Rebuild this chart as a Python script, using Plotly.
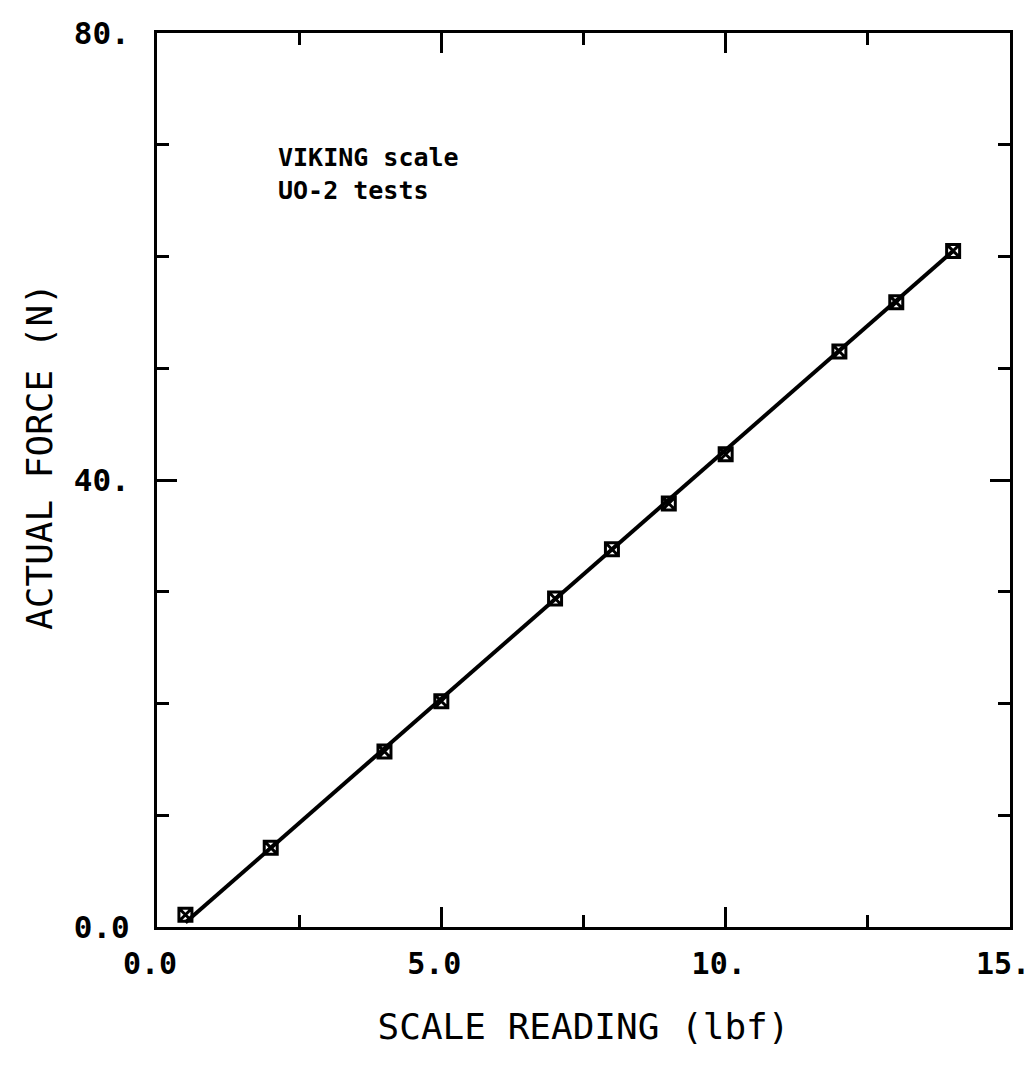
import plotly.graph_objects as go

# Data
scale_reading = [0.5, 2.0, 4.0, 5.0, 7.0, 8.0, 9.0, 10.0, 12.0, 13.0, 14.0]
actual_force = [1.1, 7.1, 15.7, 20.2, 29.4, 33.8, 37.9, 42.3, 51.5, 55.9, 60.5]

fit_x = [0.5, 14.0]
fit_y = [0.4, 60.5]

x_tickvals = [0, 5, 10, 15]
x_ticktext = ["0.0", "5.0", "10.", "15."]
y_tickvals = [0, 40, 80]
y_ticktext = ["0.0", "40.", "80."]

MONO = "DejaVu Sans Mono"

fig = go.Figure()
fig.add_trace(go.Scatter(
    x=fit_x, y=fit_y, mode="lines",
    line=dict(color="black", width=4), showlegend=False, hoverinfo="skip",
))
fig.add_trace(go.Scatter(
    x=scale_reading, y=actual_force, mode="markers",
    marker=dict(symbol="square-x-open", size=13, color="black",
                line=dict(color="black", width=3)),
    showlegend=False,
))

fig.add_annotation(x=2.1, y=68.9, text="<b>VIKING scale</b>", showarrow=False,
                   xanchor="left", yanchor="middle",
                   font=dict(family=MONO, size=25, color="black"))
fig.add_annotation(x=2.1, y=65.9, text="<b>UO-2 tests</b>", showarrow=False,
                   xanchor="left", yanchor="middle",
                   font=dict(family=MONO, size=25, color="black"))

# Y-axis title placed to match the reference position
fig.add_annotation(xref="paper", yref="paper", x=-0.137, y=0.526,
                   text="ACTUAL FORCE (N)", textangle=-90, showarrow=False,
                   xanchor="center", yanchor="middle",
                   font=dict(family=MONO, size=36, color="black"))

axis_common = dict(
    showgrid=False, zeroline=False, automargin=False,
    showline=True, linecolor="black", linewidth=3, mirror="ticks",
    ticks="inside", ticklen=20, tickwidth=2.5, tickcolor="black",
    ticklabeloverflow="allow",
)

fig.update_xaxes(
    range=[0, 15], tickvals=x_tickvals, ticktext=x_ticktext,
    tickfont=dict(family=MONO, size=30, color="black", weight="bold"),
    minor=dict(dtick=2.5, ticks="inside", ticklen=12, tickwidth=2.5, tickcolor="black"),
    title=dict(text="SCALE READING (lbf)", font=dict(family=MONO, size=36, color="black"),
               standoff=34),
    ticklabelstandoff=8, ticklabelshift=-7,
    **axis_common,
)
fig.update_yaxes(
    range=[0, 80], tickvals=y_tickvals, ticktext=y_ticktext,
    tickfont=dict(family=MONO, size=31, color="black", weight="bold"),
    minor=dict(dtick=10, ticks="inside", ticklen=12, tickwidth=2.5, tickcolor="black"),
    ticklabelstandoff=18,
    **axis_common,
)

fig.update_layout(
    width=1036, height=1075,
    margin=dict(l=157, r=26, t=33, b=148, autoexpand=False),
    plot_bgcolor="white", paper_bgcolor="white",
)

fig.write_html("out.html")
